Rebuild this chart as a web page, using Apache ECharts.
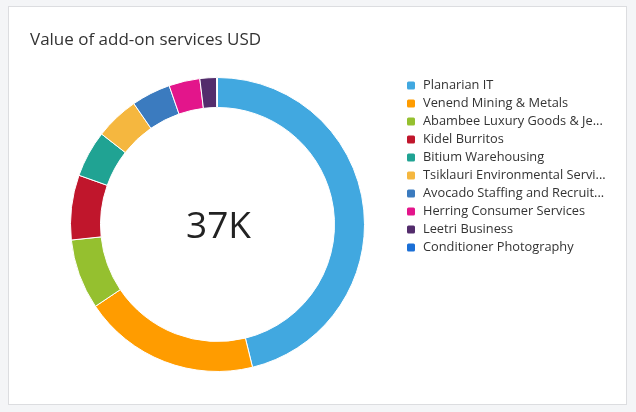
<!DOCTYPE html>
<html>
<head>
<meta charset="utf-8">
<title>Value of add-on services USD</title>
<script src="https://cdn.jsdelivr.net/npm/echarts@6/dist/echarts.min.js"></script>
<style>
    html, body { margin: 0; padding: 0; background: #f4f5f7; }
    #card {
        position: absolute;
        left: 8px;
        top: 6px;
        width: 617px;
        height: 397px;
        background: #fff;
        border: 1px solid #dcdde0;
    }
</style>
</head>
<body>
<div id="card"></div>
<script>
'use strict';

// chart data
var categories = [
    'Planarian IT',
    'Venend Mining & Metals',
    'Abambee Luxury Goods & Jewelry',
    'Kidel Burritos',
    'Bitium Warehousing',
    'Tsiklauri Environmental Services',
    'Avocado Staffing and Recruitment',
    'Herring Consumer Services',
    'Leetri Business',
    'Conditioner Photography'
];
var values = [17060, 7180, 2850, 2630, 1890, 1780, 1590, 1260, 670, 40];
var sliceColors = ['#41a8e0', '#ff9c00', '#95c02f', '#c0162c', '#20a393',
    '#f5b73f', '#3b7bbf', '#e3158b', '#532c6c', '#1b6fd6'];

var fontName = '"Open Sans", "Noto Sans", sans-serif';

(function() {
    var myChart = echarts.init(document.getElementById('card'));
    var pieCenter = [208.5, 217.5];

    var pieData = [];
    var total = 0;
    for (var i = 0, len = categories.length; i < len; i++) {
        pieData.push({ name: categories[i], value: values[i] });
        total += values[i];
    }
    //中心的合计文字
    var totalText = Math.round(total / 1000) + 'K';

    var option = {
        color: sliceColors,
        animation: false,
        title: {
            text: 'Value of add-on services USD',
            left: 16,
            top: 20,
            textStyle: {
                fontFamily: fontName,
                fontSize: 17,
                fontWeight: 'normal',
                color: '#333'
            }
        },
        legend: {
            orient: 'vertical',
            left: 396,
            top: 72,
            padding: 0,
            icon: 'roundRect',
            itemWidth: 10,
            itemHeight: 10,
            itemGap: 5,
            textStyle: {
                fontFamily: fontName,
                fontSize: 12.8,
                color: '#333',
                width: 190,
                padding: [0, 0, 0, 2],
                overflow: 'truncate',
                ellipsis: '...'
            },
            data: categories
        },
        graphic: [{
            type: 'text',
            x: pieCenter[0] + 1,
            y: pieCenter[1] + 3,
            style: {
                text: totalText,
                fontFamily: fontName,
                fontSize: 37,
                fill: '#222',
                align: 'center',
                verticalAlign: 'middle'
            }
        }],
        series: [{
            name: 'Value of add-on services USD',
            type: 'pie',
            radius: [117, 147],
            center: pieCenter,
            startAngle: 90,
            clockwise: true,
            avoidLabelOverlap: false,
            label: { show: false },
            labelLine: { show: false },
            itemStyle: {
                borderColor: '#fff',
                borderWidth: 1
            },
            data: pieData
        }]
    };
    myChart.setOption(option, true);
})();
</script>
</body>
</html>
